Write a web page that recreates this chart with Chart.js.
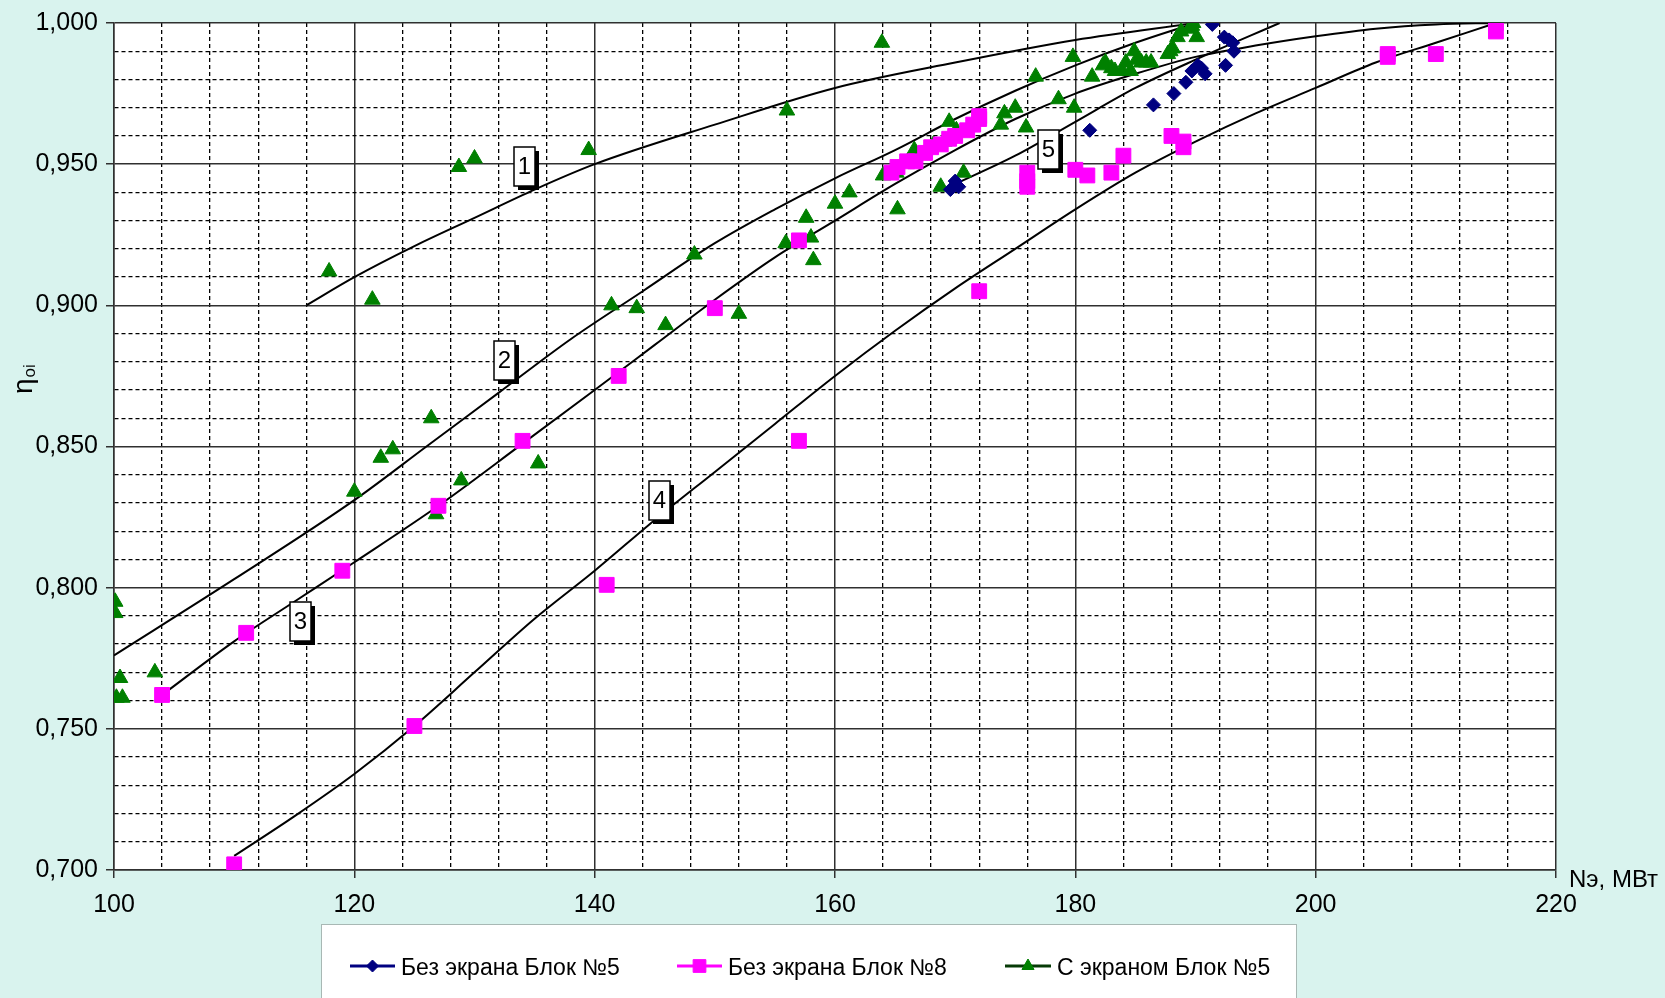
<!DOCTYPE html>
<html>
<head>
<meta charset="utf-8">
<title>КПД ηoi от Nэ</title>
<script src="https://cdn.jsdelivr.net/npm/chart.js@4.4.0/dist/chart.umd.min.js"></script>
<style>
  body { margin: 0; background: #d9f3ee; }
  #wrap { width: 1665px; height: 998px; }
</style>
</head>
<body>
<div id="wrap"><canvas id="chart" width="1665" height="998"></canvas></div>
<script>
// Опытные точки
const navyX = [169.6, 170.0, 170.3, 181.2, 186.5, 188.2, 189.2, 189.7, 190.2, 190.8, 191.4, 192.4, 192.8, 193.1, 193.2, 192.5, 190.5];
const navyY = [0.941, 0.944, 0.942, 0.962, 0.971, 0.975, 0.979, 0.983, 0.985, 0.982, 0.9995, 0.995, 0.994, 0.993, 0.990, 0.985, 0.984];

const magentaX = [104, 110, 111, 119, 125, 127, 134, 141, 142, 150, 157, 157, 164.7, 165.2, 166, 166.7, 167.5, 168, 168.8, 169.5,
                  170, 171, 171.5, 172, 172, 172, 176, 176, 176, 180, 181, 183, 184, 188, 189, 189, 206, 206, 210, 215, 215];
const magentaY = [0.762, 0.702, 0.784, 0.806, 0.751, 0.829, 0.852, 0.801, 0.875, 0.899, 0.923, 0.852, 0.947, 0.949, 0.951, 0.951, 0.954, 0.956, 0.957, 0.959,
                  0.960, 0.962, 0.964, 0.966, 0.967, 0.905, 0.947, 0.944, 0.942, 0.948, 0.946, 0.947, 0.953, 0.960, 0.958, 0.956, 0.989, 0.988, 0.989, 1.000, 0.997];

const greenX = [100.1, 100.1, 100.2, 100.7, 100.5, 103.4, 117.9, 121.5, 128.7, 130.0, 120.0, 122.2, 123.2, 126.4, 126.8, 128.9, 135.3,
                139.5, 141.4, 143.5, 145.9, 148.3, 152.0, 155.9, 156.0, 157.6, 158.0, 158.2, 160.0, 161.2, 163.9, 164.0, 165.1, 165.2,
                166.6, 168.2, 168.8, 169.1, 169.5, 170.1, 170.7, 173.8, 174.1, 175.0, 175.9, 176.7, 178.6, 179.8, 179.9, 181.4, 182.3,
                182.5, 183.0, 183.3, 183.9, 184.2, 184.6, 184.9, 185.1, 185.5, 185.9, 186.3, 187.7, 187.9, 188.1, 188.5, 188.8, 189.5,
                189.7, 189.8, 190.1];
const greenY = [0.795, 0.791, 0.761, 0.761, 0.768, 0.770, 0.912, 0.902, 0.949, 0.952, 0.834, 0.846, 0.849, 0.860, 0.826, 0.838, 0.844,
                0.955, 0.900, 0.899, 0.893, 0.918, 0.897, 0.922, 0.969, 0.931, 0.924, 0.916, 0.936, 0.940, 0.993, 0.946, 0.947, 0.934,
                0.955, 0.957, 0.942, 0.958, 0.965, 0.962, 0.947, 0.964, 0.968, 0.970, 0.963, 0.981, 0.973, 0.988, 0.970, 0.981, 0.985,
                0.986, 0.984, 0.983, 0.983, 0.986, 0.983, 0.990, 0.987, 0.986, 0.986, 0.986, 0.989, 0.990, 0.991, 0.995, 0.997, 0.998,
                0.999, 1.000, 0.995];

// Кривые 1-5
const curve1X = [116, 120, 125, 130, 135, 140, 150, 160, 170, 180, 190];
const curve1Y = [0.900, 0.910, 0.921, 0.931, 0.941, 0.950, 0.964, 0.977, 0.986, 0.994, 1.000];
const curve2X = [100, 110, 120, 126, 132, 138, 144, 150, 155, 160, 165, 170, 175, 180, 185, 190];
const curve2Y = [0.776, 0.803, 0.831, 0.850, 0.869, 0.888, 0.905, 0.922, 0.934, 0.945, 0.955, 0.966, 0.976, 0.985, 0.993, 1.000];
const curve3X = [104, 110, 115, 120, 127, 134, 140, 145, 150, 155, 160, 165, 170, 175, 180, 185, 190, 195, 200, 205, 210, 215];
const curve3Y = [0.762, 0.781, 0.795, 0.809, 0.829, 0.851, 0.870, 0.886, 0.902, 0.917, 0.930, 0.943, 0.955, 0.966, 0.975, 0.982, 0.988, 0.992, 0.9953, 0.998, 0.9995, 1.000];
const curve4X = [110, 115, 120, 125, 130, 135, 140, 145, 150, 155, 160, 165, 170, 175, 180, 185, 190, 195, 200, 205, 210, 215];
const curve4Y = [0.705, 0.719, 0.734, 0.751, 0.770, 0.789, 0.806, 0.824, 0.841, 0.858, 0.875, 0.891, 0.906, 0.920, 0.934, 0.947, 0.958, 0.968, 0.977, 0.986, 0.993, 1.000];
const curve5X = [169.5, 175, 180, 185, 190, 197];
const curve5Y = [0.942, 0.953, 0.965, 0.977, 0.987, 1.000];

// Номера кривых (центр рамки)
const labelText = ['1', '2', '3', '4', '5'];
const labelX = [134.2, 132.5, 115.5, 145.4, 177.8];
const labelY = [0.9493, 0.8804, 0.7881, 0.8309, 0.9553];

const seriesNames = ['Без экрана Блок №5', 'Без экрана Блок №8', 'С экраном Блок №5'];

const BG = '#d9f3ee';
const FONT = '"Liberation Sans", Arial, sans-serif';

function toPoints(xs, ys) {
    return xs.map((x, i) => ({ x: x, y: ys[i] }));
}

function isMajorX(v) { return v !== undefined && Math.round(v) % 20 === 0; }
function isMajorY(v) { return v !== undefined && Math.round(v * 1000) % 50 === 0; }

function curveDataset(xs, ys) {
    return {
        data: toPoints(xs, ys),
        showLine: true,
        borderColor: '#000',
        borderWidth: 2,
        pointRadius: 0,
        cubicInterpolationMode: 'monotone'
    };
}

const decorPlugin = {
    id: 'decor',
    beforeDraw(chart) {
        const { ctx, chartArea: a } = chart;
        ctx.save();
        ctx.fillStyle = BG;
        ctx.fillRect(0, 0, chart.width, chart.height);
        ctx.fillStyle = '#fff';
        ctx.fillRect(a.left, a.top, a.right - a.left, a.bottom - a.top);
        ctx.restore();
    },
    afterDatasetsDraw(chart) {
        const { ctx, scales } = chart;
        ctx.save();
        labelText.forEach((t, i) => {
            const cx = scales.x.getPixelForValue(labelX[i]);
            const cy = scales.y.getPixelForValue(labelY[i]);
            const w = 21, h = 39;
            const x0 = Math.round(cx - w / 2), y0 = Math.round(cy - h / 2);
            ctx.fillStyle = '#000';
            ctx.fillRect(x0 + 4, y0 + 4, w, h);
            ctx.fillStyle = '#fff';
            ctx.fillRect(x0, y0, w, h);
            ctx.strokeStyle = '#000';
            ctx.lineWidth = 1.5;
            ctx.strokeRect(x0, y0, w, h);
            ctx.fillStyle = '#000';
            ctx.font = '24px ' + FONT;
            ctx.textAlign = 'center';
            ctx.textBaseline = 'middle';
            ctx.fillText(t, x0 + w / 2, y0 + h / 2 + 1);
        });
        ctx.restore();
    },
    afterDraw(chart) {
        const ctx = chart.ctx;
        ctx.save();

        // Подпись оси X
        ctx.fillStyle = '#000';
        ctx.font = '24px ' + FONT;
        ctx.textAlign = 'left';
        ctx.textBaseline = 'middle';
        ctx.fillText('Nэ, МВт', 1569, 880);

        // Подпись оси Y
        ctx.save();
        ctx.translate(32, 394);
        ctx.rotate(-Math.PI / 2);
        ctx.textBaseline = 'alphabetic';
        ctx.font = '28px ' + FONT;
        ctx.fillText('η', 0, 0);
        const ew = ctx.measureText('η').width;
        ctx.font = '17px ' + FONT;
        ctx.fillText('oi', ew + 1, 3);
        ctx.restore();

        // Легенда
        ctx.fillStyle = '#fff';
        ctx.fillRect(321, 924, 975, 80);
        ctx.strokeStyle = '#a8b8b4';
        ctx.lineWidth = 1;
        ctx.strokeRect(321.5, 924.5, 975, 80);

        const items = [
            { x1: 350, x2: 395, tx: 401, line: '#000080', fill: '#000080', style: 'rectRot', r: 6 },
            { x1: 677, x2: 722, tx: 728, line: '#ff00ff', fill: '#ff00ff', style: 'rect', r: 9 },
            { x1: 1005, x2: 1051, tx: 1057, line: '#063a06', fill: '#008000', style: 'triangle', r: 7 }
        ];
        const ly = 966;
        items.forEach((it, i) => {
            ctx.strokeStyle = it.line;
            ctx.lineWidth = 3;
            ctx.beginPath();
            ctx.moveTo(it.x1, ly);
            ctx.lineTo(it.x2, ly);
            ctx.stroke();
            ctx.fillStyle = it.fill;
            ctx.strokeStyle = it.fill;
            ctx.lineWidth = 1;
            Chart.helpers.drawPoint(ctx, { pointStyle: it.style, radius: it.r, rotation: 0, borderWidth: 1 },
                (it.x1 + it.x2) / 2, ly);
            ctx.fillStyle = '#000';
            ctx.font = '23px ' + FONT;
            ctx.textAlign = 'left';
            ctx.textBaseline = 'middle';
            ctx.fillText(seriesNames[i], it.tx, ly + 3);
        });

        ctx.restore();
    }
};

const datasets = [
    {
        label: seriesNames[0],
        data: toPoints(navyX, navyY),
        pointStyle: 'rectRot',
        pointRadius: 7,
        backgroundColor: '#000080',
        borderColor: '#000080',
        borderWidth: 1
    },
    {
        label: seriesNames[1],
        data: toPoints(magentaX, magentaY),
        pointStyle: 'rect',
        pointRadius: 10.5,
        backgroundColor: '#ff00ff',
        borderColor: '#ff00ff',
        borderWidth: 1
    },
    {
        label: seriesNames[2],
        data: toPoints(greenX, greenY),
        pointStyle: 'triangle',
        pointRadius: 9,
        backgroundColor: '#008000',
        borderColor: '#008000',
        borderWidth: 1
    },
    curveDataset(curve1X, curve1Y),
    curveDataset(curve2X, curve2Y),
    curveDataset(curve3X, curve3Y),
    curveDataset(curve4X, curve4Y),
    curveDataset(curve5X, curve5Y)
];

new Chart(document.getElementById('chart'), {
    type: 'scatter',
    data: { datasets: datasets },
    options: {
        responsive: false,
        animation: false,
        devicePixelRatio: 1,
        layout: { padding: { top: 18, right: 109, left: 0, bottom: 0 } },
        plugins: {
            legend: { display: false },
            tooltip: { enabled: false }
        },
        scales: {
            x: {
                type: 'linear',
                min: 100,
                max: 220,
                afterFit: s => { s.height = 128; },
                ticks: {
                    stepSize: 4,
                    autoSkip: false,
                    maxRotation: 0,
                    padding: 12,
                    color: '#000',
                    font: { family: FONT, size: 25 },
                    callback: v => isMajorX(v) ? String(v) : ''
                },
                grid: {
                    color: c => isMajorX(c.tick && c.tick.value) ? '#303030' : '#000',
                    lineWidth: c => isMajorX(c.tick && c.tick.value) ? 1.5 : 1.3,
                    tickLength: 8,
                    tickColor: c => isMajorX(c.tick && c.tick.value) ? '#303030' : 'rgba(0,0,0,0)'
                },
                border: {
                    color: '#303030',
                    width: 1.5,
                    dash: c => (c.tick && !isMajorX(c.tick.value)) ? [4, 3] : []
                }
            },
            y: {
                type: 'linear',
                min: 0.7,
                max: 1.0,
                afterFit: s => { s.width = 114; },
                ticks: {
                    stepSize: 0.01,
                    autoSkip: false,
                    padding: 8,
                    color: '#000',
                    font: { family: FONT, size: 25 },
                    callback: v => isMajorY(v) ? v.toFixed(3).replace('.', ',') : ''
                },
                grid: {
                    color: c => isMajorY(c.tick && c.tick.value) ? '#303030' : '#000',
                    lineWidth: c => isMajorY(c.tick && c.tick.value) ? 1.5 : 1.3,
                    tickLength: 8,
                    tickColor: c => isMajorY(c.tick && c.tick.value) ? '#303030' : 'rgba(0,0,0,0)'
                },
                border: {
                    color: '#303030',
                    width: 1.5,
                    dash: c => (c.tick && !isMajorY(c.tick.value)) ? [4, 3] : []
                }
            }
        }
    },
    plugins: [decorPlugin]
});
</script>
</body>
</html>
